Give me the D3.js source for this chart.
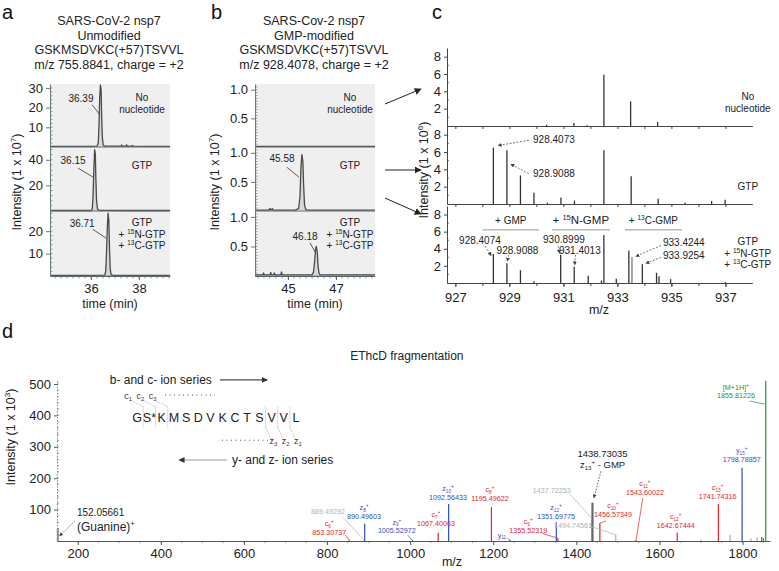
<!DOCTYPE html>
<html><head><meta charset="utf-8">
<script src="https://cdn.jsdelivr.net/npm/d3@7"></script>
<style>body{margin:0;background:#fff}svg{display:block}text{font-family:"Liberation Sans",Arial,sans-serif}</style>
</head><body><svg id="fig" width="779" height="571"></svg>
<script>
// ---------------- DATA ----------------
const aTitle = ["SARS-CoV-2 nsp7","Unmodified","GSKMSDVKC(+57)TSVVL","m/z 755.8841, charge = +2"];
const bTitle = ["SARS-Cov-2 nsp7","GMP-modified","GSKMSDVKC(+57)TSVVL","m/z 928.4078, charge = +2"];
const conditions = [["No","nucleotide"],["GTP"],["GTP","+ ^{15}N-GTP","+ ^{13}C-GTP"]];

// chromatograms (time min, intensity)
const aTraceNone = [[34.29,0.3],[35.2,0.3],[36.0,0.3],[36.25,0.4],[36.3,2],[36.33,10],[36.36,25],[36.39,31.5],[36.42,29],[36.44,17],[36.47,5],[36.51,1],[36.57,0.4],[37.25,0.4],[37.28,1.0],[37.31,0.4],[37.45,0.4],[37.48,1.1],[37.51,0.4],[37.7,0.4],[37.73,0.8],[37.76,0.4],[38.5,0.3],[39.29,0.3]];
const aTraceGtp = [[34.29,0.4],[35.5,0.4],[36.0,0.4],[36.05,1.5],[36.08,10],[36.12,34],[36.15,48],[36.18,44],[36.2,26],[36.23,8],[36.27,1.5],[36.33,0.5],[37.5,0.4],[39.29,0.4]];
const aTraceMix = [[34.29,0.3],[36.0,0.3],[36.57,0.4],[36.61,2],[36.64,9],[36.68,22],[36.71,28],[36.74,25],[36.77,12],[36.8,3],[36.84,0.6],[36.9,0.3],[39.29,0.3]];
const bTraceNone = [[43.625,0.012],[44.5,0.012],[45.5,0.01],[46.5,0.012],[48.625,0.012]];
const bTraceGtp = [[43.625,0.015],[44.2,0.015],[44.25,0.045],[44.28,0.015],[44.35,0.04],[44.38,0.015],[45.3,0.015],[45.44,0.04],[45.5,0.25],[45.54,0.75],[45.58,0.97],[45.62,0.85],[45.65,0.45],[45.69,0.1],[45.74,0.03],[45.8,0.015],[48.625,0.015]];
const bTraceMix = [[43.625,0.02],[43.95,0.02],[43.98,0.05],[44.01,0.02],[44.25,0.02],[44.28,0.06],[44.31,0.02],[44.4,0.02],[44.43,0.05],[44.46,0.02],[44.7,0.02],[44.73,0.07],[44.76,0.02],[46.0,0.02],[46.06,0.06],[46.11,0.25],[46.15,0.46],[46.18,0.5],[46.22,0.4],[46.25,0.18],[46.29,0.05],[46.34,0.02],[48.625,0.02]];
const aYMax = [32, 50, 29];
const bYMax = [1.1, 1.1, 1.1];
const aYTicks = [[10,20,30],[20,40],[10,20]];
const bYTicks = [[0.5,1.0],[0.5,1.0],[0.5,1.0]];
const aXTicks = [36, 38];
const bXTicks = [45, 47];

// MS1 spectra panel c (m/z, intensity x10^6)
const cNoneMz  = [930.38, 931.39, 931.88, 932.50, 933.49, 934.49];
const cNoneInt = [0.15, 0.35, 0.1, 5.9, 2.85, 0.45];
const cGtpMz  = [928.4073, 928.9088, 929.41, 929.91, 930.41, 930.91, 931.41, 932.50, 933.51, 934.51, 935.51, 936.49, 936.99];
const cGtpInt = [6.5, 6.2, 3.3, 1.3, 0.15, 0.75, 0.4, 6.2, 3.2, 0.6, 0.15, 0.35, 0.5];
const cMixMz  = [928.4074, 928.9088, 929.41, 929.91, 930.8999, 931.4013, 931.92, 932.41, 932.50, 932.96, 933.4244, 933.54, 933.9254, 934.45, 934.54, 934.97, 937.0];
const cMixInt = [3.4, 2.3, 1.5, 0.2, 3.3, 1.9, 0.85, 0.3, 5.6, 0.5, 3.8, 3.0, 2.2, 1.2, 0.8, 0.45, 0.1];
const cXTicks = [927, 929, 931, 933, 935, 937];
const cYTicks = [2, 4, 6, 8];

// MS2 spectrum panel d (m/z, intensity x10^3, ion class)
const dMz  = [152.06, 853.31, 889.49, 890.50, 1005.53, 1067.40, 1092.56, 1195.50, 1240.0, 1351.70, 1355.52, 1437.72, 1438.73, 1456.57, 1494.75, 1543.60, 1642.67, 1700.0, 1741.74, 1770.0, 1798.79, 1820.0, 1835.0, 1846.0, 1850.0, 1855.81];
const dInt = [40, 2, 3, 55, 2, 26, 118, 108, 3, 60, 9, 70, 122, 57, 20, 3, 26, 4, 118, 20, 233, 8, 12, 13, 9, 510];
const dCls = ["guan","red","grey","blue","blue","red","blue","red","blue","blue","red","grey","dark","red","grey","red","red","grey","red","grey","blue","grey","grey","green","green","green"];
const dXTicks = [200, 400, 600, 800, 1000, 1200, 1400, 1600, 1800];
const dYTicks = [100, 200, 300, 400, 500];
const sequence = ["G","S*","K","M","S","D","V","K","C","T","S","V","V","L"];

// ---------------- HELPERS ----------------
const svg = d3.select("#fig");
svg.append("rect").attr("width",779).attr("height",571).attr("fill","#fff");
const defs = svg.append("defs");
function marker(id, size, color){
  defs.append("marker").attr("id",id).attr("viewBox","0 0 10 10").attr("refX",9).attr("refY",5)
    .attr("markerWidth",size).attr("markerHeight",size).attr("orient","auto").attr("markerUnits","userSpaceOnUse")
    .append("path").attr("d","M0,0L10,5L0,10z").attr("fill",color);
}
marker("arr",7,"#222"); marker("arrS",4,"#444"); marker("arrG",6,"#333");
const FONT = '"Liberation Sans",Arial,sans-serif';

function rich(sel, str, fs){
  const parts = str.split(/(\^\{[^}]*\}|_\{[^}]*\})/).filter(s=>s.length);
  let shift = 0;
  parts.forEach(p=>{
    let t=p, s=0, small=false;
    if (p.startsWith("^{")) { t=p.slice(2,-1); s=-0.4*fs; small=true; }
    else if (p.startsWith("_{")) { t=p.slice(2,-1); s=0.25*fs; small=true; }
    const ts = sel.append("tspan").text(t).attr("dy", s-shift);
    if (small) ts.attr("font-size", fs*0.65);
    shift = s;
  });
}
function label(x, y, str, fs, anchor, fill, family){
  const t = svg.append("text").attr("x",x).attr("y",y).attr("font-size",fs)
    .attr("text-anchor",anchor||"start").attr("fill",fill||"#222");
  if (family) t.attr("font-family",family);
  rich(t, str, fs);
  return t;
}
function seg(x1,y1,x2,y2,color,w,dash,mk){
  const l = svg.append("line").attr("x1",x1).attr("y1",y1).attr("x2",x2).attr("y2",y2)
    .attr("stroke",color||"#222").attr("stroke-width",w||1);
  if (dash) l.attr("stroke-dasharray",dash);
  if (mk) l.attr("marker-end",`url(#${mk})`);
  return l;
}
function styleAxis(g, color, fs){
  g.select(".domain").attr("stroke",color);
  g.selectAll(".tick line").attr("stroke",color);
  g.selectAll("text").attr("font-size",fs).attr("fill","#222").attr("font-family",FONT);
}

// panel letters
[["a",2,19],["b",211,19],["c",432,19],["d",2,338]].forEach(([s,x,y])=>label(x,y,s,20,"start","#111"));

// ---------------- PANELS a & b ----------------
const subY = [[147,84],[211,147],[276,211]];
function chromPanel(xScale, traces, yMax, yTicks, minorSteps, fmt, xTicks, title, titleX, ylabX, peakLabels, condX){
  const [x0,x1] = xScale.range();
  svg.append("rect").attr("x",x0).attr("y",84).attr("width",x1-x0).attr("height",276-84).attr("fill","#efefef");
  title.forEach((t,i)=>label(titleX, 25+i*14.5, t, 12.5, "middle", "#222"));
  subY.forEach((r,i)=>{
    const y = d3.scaleLinear().domain([0,yMax[i]]).range(r);
    svg.append("path").datum(traces[i])
      .attr("d", d3.line().x(d=>xScale(d[0])).y(d=>y(d[1])))
      .attr("fill","#d8d8d8").attr("stroke","#4a4a4a").attr("stroke-width",1.3).attr("stroke-linejoin","round");
    seg(x0, r[0], x1, r[0], "#5a6a6a", 1.2);
    d3.range(minorSteps[i], yMax[i], minorSteps[i]).forEach(v=>seg(x0, y(v), x0+2.5, y(v), "#6a7a7a", 0.7));
    const g = svg.append("g").attr("transform",`translate(${x0},0)`)
      .call(d3.axisLeft(y).tickValues(yTicks[i]).tickFormat(fmt).tickSize(4).tickSizeOuter(0));
    styleAxis(g, "#6a7a7a", 13);
    conditions[i].forEach((s,k)=>{
      const yy = i===0 ? r[1]+17+k*12 : (i===1 ? r[1]+22 : r[1]+15+k*11.5);
      label(condX, yy, s, 10, "middle", "#222");
    });
  });
  const gx = svg.append("g").attr("transform","translate(0,276)")
    .call(d3.axisBottom(xScale).tickValues(xTicks).tickSize(4).tickSizeOuter(0).tickFormat(d3.format("d")));
  styleAxis(gx, "#5a6a6a", 13);
  gx.selectAll("text").attr("dy","0.75em");
  const dm = xScale.domain();
  d3.range(Math.ceil(dm[0]*4)/4, dm[1], 0.25).forEach(v=>seg(xScale(v),276,xScale(v),278.5,"#5a6a6a",0.7));
  label((x0+x1)/2, 308, "time (min)", 12.5, "middle", "#222");
  svg.append("text").attr("transform",`translate(${ylabX},182) rotate(-90)`).attr("text-anchor","middle")
    .attr("font-size",12.5).attr("fill","#222").call(t=>rich(t,"Intensity (1 x 10^{7})",12.5));
  peakLabels.forEach(p=>{
    const y = d3.scaleLinear().domain([0,yMax[p.sub]]).range(subY[p.sub]);
    label(xScale(p.x), y(p.y), p.text, 10, "middle", "#222");
    seg(xScale(p.l[0]), y(p.l[1]), xScale(p.l[2]), y(p.l[3]), "#333", 0.8);
  });
}

const aX = d3.scaleLinear().domain([34.29, 39.29]).range([50, 170]);
const bX = d3.scaleLinear().domain([43.625, 48.625]).range([255, 375]);
chromPanel(aX, [aTraceNone,aTraceGtp,aTraceMix], aYMax, aYTicks, [2,4,2], d3.format("d"), aXTicks, aTitle, 109, 21,
  [{sub:0,text:"36.39",x:35.58,y:22.8,l:[36.04,21.5,36.36,16.5]},
   {sub:1,text:"36.15",x:35.25,y:37,l:[35.46,33.5,36.08,26.5]},
   {sub:2,text:"36.71",x:35.63,y:21.7,l:[36.08,20.8,36.64,16.8]}], 142);
chromPanel(bX, [bTraceNone,bTraceGtp,bTraceMix], bYMax, bYTicks, [0.05,0.05,0.05], d3.format(".1f"), bXTicks, bTitle, 314, 219,
  [{sub:1,text:"45.58",x:44.75,y:0.84,l:[44.96,0.75,45.46,0.58]},
   {sub:2,text:"46.18",x:45.71,y:0.61,l:[45.92,0.56,46.125,0.41]}], 350);

// arrows b -> c
seg(385,104,421,89,"#222",1,null,"arr");
seg(385,170,421,170,"#222",1,null,"arr");
seg(385,198,421,214,"#222",1,null,"arr");

// ---------------- PANEL c ----------------
const cX = d3.scaleLinear().domain([926.69, 938.0]).range([447, 752.4]);
const cSub = [[126,48],[204,126],[283,206]];
const cSets = [[cNoneMz,cNoneInt],[cGtpMz,cGtpInt],[cMixMz,cMixInt]];
const cYs = cSub.map(r=>d3.scaleLinear().domain([0,9]).range(r));
cSets.forEach(([mz,it],i)=>{
  const y = cYs[i];
  svg.append("g").selectAll("line").data(mz.map((m,k)=>[m,it[k]])).join("line")
    .attr("x1",d=>cX(d[0])).attr("x2",d=>cX(d[0])).attr("y1",y(0)).attr("y2",d=>y(d[1]))
    .attr("stroke",(d,k)=>(i===2&&k===11)?"#777":"#333").attr("stroke-width",1.3);
  const g = svg.append("g").attr("transform",`translate(447,0)`)
    .call(d3.axisLeft(y).tickValues(cYTicks).tickSize(3).tickSizeOuter(0).tickFormat(d3.format("d")));
  styleAxis(g, "#444", 13);
  d3.range(1,9,2).forEach(v=>seg(447,y(v),449,y(v),"#444",0.7));
  const gb = svg.append("g").attr("transform",`translate(0,${cSub[i][0]})`)
    .call(d3.axisBottom(cX).tickValues(d3.range(927,938,1)).tickSize(3).tickSizeOuter(0).tickFormat(""));
  styleAxis(gb, "#444", 13);
});
const gcx = svg.append("g").attr("transform","translate(0,283)")
  .call(d3.axisBottom(cX).tickValues(cXTicks).tickSize(4).tickSizeOuter(0).tickFormat(d3.format("d")));
styleAxis(gcx, "#444", 13);
gcx.select(".domain").remove();
gcx.selectAll("text").attr("dy","0.95em");
label(599, 314, "m/z", 12.5, "middle", "#222");
svg.append("text").attr("transform",`translate(428,170) rotate(-90)`).attr("text-anchor","middle")
  .attr("font-size",12.5).attr("fill","#222").call(t=>rich(t,"Intensity (1 x 10^{6})",12.5));
label(cX(937.83), cYs[0](3.0), "No", 10, "middle");
label(cX(937.83), cYs[0](1.6), "nucleotide", 10, "middle");
label(cX(937.83), cYs[1](1.6), "GTP", 10, "middle");
label(cX(937.83), cYs[2](4.4), "GTP", 10, "middle");
label(cX(937.83), cYs[2](3.05), "+ ^{15}N-GTP", 10, "middle");
label(cX(937.83), cYs[2](1.7), "+ ^{13}C-GTP", 10, "middle");
const cAnn = [
  {s:1, text:"928.4073", x:930.65, y:7.0, a:[929.72,7.35,928.58,6.75]},
  {s:1, text:"928.9088", x:930.65, y:3.1, a:[929.72,3.5,929.05,4.6]},
  {s:2, text:"928.4074", x:927.91, y:4.6, a:[928.1,4.3,928.33,3.2]},
  {s:2, text:"928.9088", x:929.3, y:3.4, a:[928.98,3.3,928.92,2.55]},
  {s:2, text:"930.8999", x:931.02, y:4.7, a:[930.8,4.35,930.86,3.45]},
  {s:2, text:"931.4013", x:931.61, y:3.4, a:[931.45,3.3,931.42,2.1]},
  {s:2, text:"933.4244", x:935.46, y:4.3, a:[934.62,4.4,933.68,3.1]},
  {s:2, text:"933.9254", x:935.46, y:2.85, a:[934.62,3.0,934.05,2.3]}
];
cAnn.forEach(p=>{
  const y = cYs[p.s];
  label(cX(p.x), y(p.y), p.text, 10, "middle", "#222");
  seg(cX(p.a[0]), y(p.a[1]), cX(p.a[2]), y(p.a[3]), "#555", 0.8, "2,1.5", "arrS");
});
const cBrackets = [["+ GMP",928.0,930.1],["+ ^{15}N-GMP",930.57,932.72],["+ ^{13}C-GMP",933.28,935.39]];
cBrackets.forEach(([t,m0,m1],k)=>{
  label(cX((m0+m1)/2), cYs[2](6.85), t, k===1?11.5:10, "middle", "#222");
  seg(cX(m0), cYs[2](6.2), cX(m1), cYs[2](6.2), "#aaa", 1.2);
});

// ---------------- PANEL d ----------------
const dX = d3.scaleLinear().domain([150, 1866]).range([57, 770]);
const dY = d3.scaleLinear().domain([0, 515]).range([541, 379.3]);
const dColor = {red:"#e3242b", blue:"#2c4fc0", green:"#2e8b3a", grey:"#b0b0b0", dark:"#666", guan:"#9a9a9a"};
svg.append("g").selectAll("line").data(dMz.map((m,k)=>({m, v:dInt[k], c:dCls[k]}))).join("line")
  .attr("x1",d=>dX(d.m)).attr("x2",d=>dX(d.m)).attr("y1",dY(0)).attr("y2",d=>dY(d.v))
  .attr("stroke",d=>dColor[d.c]).attr("stroke-width",d=>d.c==="dark"||d.c==="guan"?2.2:1.2);
const gdx = svg.append("g").attr("transform","translate(0,541)")
  .call(d3.axisBottom(dX).tickValues(dXTicks).tickSize(4).tickSizeOuter(0).tickFormat(d3.format("d")));
styleAxis(gdx, "#555", 13);
gdx.selectAll("text").attr("dy","0.8em");
d3.range(200,1866,50).forEach(v=>seg(dX(v),541,dX(v),543,"#666",0.7));
const gdy = svg.append("g").attr("transform","translate(57,0)")
  .call(d3.axisLeft(dY).tickValues(dYTicks).tickSize(3).tickSizeOuter(0).tickFormat(d3.format("d")));
styleAxis(gdy, "#555", 13);
gdy.select(".domain").attr("stroke","#888").attr("stroke-dasharray","1.5,1.5");
d3.range(20,515,20).forEach(v=>seg(57,dY(v),59,dY(v),"#777",0.7));
label(452, 566, "m/z", 12.5, "middle", "#222");
svg.append("text").attr("transform",`translate(15,437) rotate(-90)`).attr("text-anchor","middle")
  .attr("font-size",12.5).attr("fill","#222").call(t=>rich(t,"Intensity (1 x 10^{3})",12.5));
label(dX(992), dY(576), "EThcD fragmentation", 12, "middle", "#222");

const SERIF = '"Liberation Serif","Times New Roman",serif';
const dAnn = [
  {c:"grey", lines:["889.49292"], x:802, y:86, lead:[838,75,889.5,3]},
  {c:"blue", lines:["z_{8}^{+}","890.49603"], x:889, y:99},
  {c:"red", lines:["c_{6}^{+}","853.30737"], x:805, y:47, lead:[843,20,853.8,2]},
  {c:"blue", lines:["z_{9}^{+}","1005.52972"], x:968, y:52, lead:[994,19,1005,2]},
  {c:"red", lines:["c_{7}^{+}","1067.40063"], x:1062, y:77},
  {c:"blue", lines:["z_{10}^{+}","1092.56433"], x:1091, y:159},
  {c:"red", lines:["c_{8}^{+}","1195.49622"], x:1192, y:155},
  {c:"blue", lines:["y_{11}"], x:1221, y:11, lead:[1234,9,1240,3]},
  {c:"red", lines:["c_{9}^{+}","1355.52319"], x:1284, y:54, lead:[1318,24,1355,9]},
  {c:"blue", lines:["z_{12}^{+}","1351.69775"], x:1351, y:98},
  {c:"grey", lines:["1437.72253"], x:1341, y:154, lead:[1384,150,1437,73]},
  {c:"red", lines:["c_{10}^{+}","1456.57349"], x:1488, y:104, lead:[1472,64,1457,57]},
  {c:"grey", lines:["1494.74561"], x:1392, y:40, lead:[1432,48,1494,20]},
  {c:"red", lines:["c_{11}^{+}","1543.60022"], x:1565, y:176, lead:[1560,137,1543.6,3]},
  {c:"red", lines:["c_{12}^{+}","1642.67444"], x:1639, y:71},
  {c:"red", lines:["c_{13}^{+}","1741.74316"], x:1740, y:163},
  {c:"blue", lines:["y_{15}^{+}","1798.78857"], x:1798, y:280},
  {c:"green", lines:["[M+1H]^{+}","1855.81226"], x:1784, y:482, lead:[1817,446,1853,436]}
];
dAnn.forEach(p=>{
  p.lines.forEach((s,k)=>label(dX(p.x), dY(p.y)+k*8.8, s, 7.2, "middle", dColor[p.c], SERIF));
  if (p.lead) seg(dX(p.lead[0]),dY(p.lead[1]),dX(p.lead[2]),dY(p.lead[3]),dColor[p.c],0.7);
});
label(dX(1463), dY(267), "1438.73035", 9.5, "middle", "#222");
label(dX(1463), dY(234), "z_{13}^{+} - GMP", 9.5, "middle", "#222");
seg(dX(1459),dY(222),dX(1442),dY(137),"#333",0.8,"1.5,1.5","arrS");
label(dX(198), dY(80), "152.05661", 10, "start", "#222");
label(dX(198), dY(32), "(Guanine)^{+}", 12, "start", "#222");
seg(dX(193),dY(64),dX(156),dY(16),"#333",0.8,"1.5,1.5","arrS");

// sequence annotation (positions in data units of panel d)
label(dX(277), dY(500), "b- and c- ion series", 12, "start", "#222");
seg(dX(542),dY(513),dX(656),dY(513),"#222",1,null,"arrG");
label(dX(571), dY(245), "y- and z- ion series", 12, "start", "#222");
seg(dX(559),dY(258),dX(444),dY(258),"#999",1.2,null,"arrG");
const cx0 = dX(343), step = dX(372.4)-dX(343);
sequence.forEach((s,k)=>label(cx0+k*step, dY(379), s, 12.5, "middle", "#222"));
[0,1,2,10,11,12].forEach(k=>seg(cx0+(k+0.5)*step, dY(428), cx0+(k+0.5)*step, dY(362), "#888", 0.6, "1,1"));
[["c_{1}",0],["c_{2}",1],["c_{3}",2]].forEach(([s,k])=>{
  label(cx0+k*step-9, dY(452), s, 9, "middle", "#333");
  seg(cx0+k*step-6, dY(447), cx0+(k+0.5)*step, dY(428), "#888", 0.6, "1,1");
});
seg(dX(410),dY(465),dX(530),dY(465),"#444",1,"1,3.5");
[["z_{3}",10],["z_{2}",11],["z_{1}",12]].forEach(([s,k])=>{
  label(cx0+k*step+14, dY(309), s, 9, "middle", "#333");
  seg(cx0+(k+0.5)*step, dY(362), cx0+k*step+12, dY(322), "#888", 0.6, "1,1");
});
seg(dX(547),dY(321),dX(670),dY(321),"#444",1,"1,3.5");
</script></body></html>
